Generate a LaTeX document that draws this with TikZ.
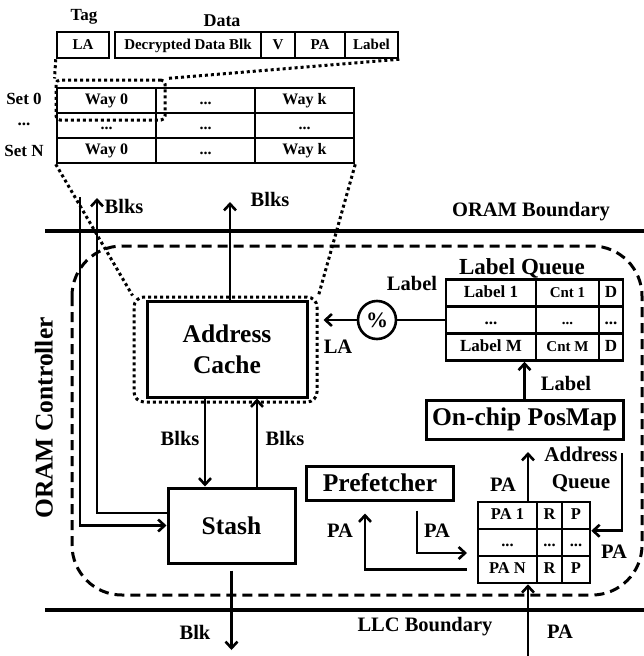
\documentclass[tikz,border=0pt]{standalone}
\usepackage{fontspec}
\setmainfont{Liberation Serif}
\usetikzlibrary{arrows.meta}

\newcommand{\fs}[2]{\fontsize{#1}{#2}\selectfont\bfseries}

\begin{document}
\begin{tikzpicture}[x=1pt,y=-1pt,
    box/.style={draw,line width=3pt,inner sep=0pt,font=\fs{25.5}{31},align=center},
    cell/.style={draw,line width=2.5pt,inner sep=0pt,text height=11pt,text depth=3pt},
    field/.style={cell,minimum height=26pt,font=\fs{15}{17}},
    way/.style={cell,minimum width=99pt,minimum height=25pt,font=\fs{16}{18}},
    lq/.style={cell,minimum height=27pt,font=\fs{17}{19}},
    aq/.style={cell,minimum height=27pt,font=\fs{16.5}{18}},
    txt/.style={inner sep=0pt,font=\fs{20.5}{25}},
    arr/.style={line width=2.6pt,-{Straight Barb[length=6.5pt,width=12pt]}},
    bound/.style={line width=4pt},
    dots/.style={line width=3pt,dash pattern=on 3pt off 3pt},
    ctrl/.style={line width=3pt,dash pattern=on 10pt off 6pt,rounded corners=50pt}]
    \useasboundingbox (0,0) rectangle (644,656);

    % cache line format
    \node[inner sep=0pt,font=\fs{17}{19}] (tagttl) at (84,17) {Tag};
    \node[inner sep=0pt,font=\fs{18}{20}] (datattl) at (222,21) {Data};
    \node[field,minimum width=52pt] (fla) at (83,45) {LA};
    \node[field,minimum width=146pt] (fblk) at (188,45) {Decrypted Data Blk};
    \node[field,minimum width=34pt] (fv) at (278,45) {V};
    \node[field,minimum width=50pt] (fpa) at (320,45) {PA};
    \node[field,minimum width=53pt] (flbl) at (371.5,45) {Label};

    % address cache sets
    \node[inner sep=0pt,font=\fs{17}{19}] (set0) at (24,99) {Set 0};
    \node[inner sep=0pt,font=\fs{17}{19}] (setd) at (24,124) {...};
    \node[inner sep=0pt,font=\fs{17}{19}] (setn) at (24,151) {Set N};
    \node[way] (s00) at (106.5,100.5) {Way 0};
    \node[way] (s01) at (205.5,100.5) {...};
    \node[way] (s02) at (304.5,100.5) {Way k};
    \node[way] (s10) at (106.5,125.5) {...};
    \node[way] (s11) at (205.5,125.5) {...};
    \node[way] (s12) at (304.5,125.5) {...};
    \node[way] (s20) at (106.5,150.5) {Way 0};
    \node[way] (s21) at (205.5,150.5) {...};
    \node[way] (s22) at (304.5,150.5) {Way k};

    \node[draw,dots,rounded corners=4pt,minimum width=109pt,minimum height=40pt,inner sep=0pt] (zoomcell) at (110.5,100) {};
    \draw[dots] (fla.south west) -- (zoomcell.north west);
    \draw[dots] (flbl.south east) -- (zoomcell.north east);

    % boundaries
    \draw[bound] (45,231) -- (644,231);
    \node[txt] (oramb) at (531,212) {ORAM Boundary};
    \draw[bound] (45,610) -- (644,610);
    \node[txt] (llcb) at (425,627) {LLC Boundary};

    \draw[ctrl] (72,246) rectangle (642,595);
    \node[inner sep=0pt,font=\fs{25.5}{28},rotate=90] (ctrlname) at (44,418) {ORAM Controller};

    % address cache and stash
    \node[box,minimum width=160pt,minimum height=96pt] (acache) at (227,349) {Address\\Cache};
    \node[draw,dots,rounded corners=10pt,minimum width=183pt,minimum height=105pt,inner sep=0pt] (acwrap) at (225.5,349.5) {};
    \draw[dots] (s20.south west) -- (acwrap.north west);
    \draw[dots] (s22.south east) -- (acwrap.north east);
    \node[box,minimum width=127pt,minimum height=75pt] (stash) at (231.5,525.5) {Stash};

    \coordinate (upblk) at (230,202);
    \draw[arr] (acache.north -| upblk) -- (upblk);
    \node[txt] (lblks1) at (270,199) {Blks};

    \draw[arr] ([xshift=-22pt]acache.south) -- ([xshift=-22pt]acache.south |- stash.north);
    \draw[arr] ([xshift=25.5pt]stash.north) -- ([xshift=25.5pt]stash.north |- acache.south);
    \node[txt] (lblks2) at (180,438) {Blks};
    \node[txt] (lblks3) at (285,438) {Blks};

    \coordinate (ltop) at (80,197);
    \coordinate (rtop) at (97,198);
    \draw[arr] (ltop) |- (stash.west);
    \draw[arr] ([yshift=12.5pt]stash.west) -| (rtop);
    \node[txt] (lblks0) at (124,206) {Blks};

    \coordinate (blkout) at (232,650);
    \draw[arr,shorten <=6pt] (stash.south) -- (stash.south |- blkout);
    \node[txt] (lblk) at (195,632) {Blk};

    % label queue
    \node[inner sep=0pt,font=\fs{23}{26}] (lqttl) at (522,268) {Label Queue};
    \node[lq,minimum width=90pt] (lq00) at (491,293) {Label 1};
    \node[lq,minimum width=63pt,font=\fs{15}{17}] (lq01) at (567.5,293) {Cnt 1};
    \node[lq,minimum width=24pt] (lq02) at (611,293) {D};
    \node[lq,minimum width=90pt] (lq10) at (491,320) {...};
    \node[lq,minimum width=63pt,font=\fs{15}{17}] (lq11) at (567.5,320) {...};
    \node[lq,minimum width=24pt] (lq12) at (611,320) {...};
    \node[lq,minimum width=90pt] (lq20) at (491,347) {Label M};
    \node[lq,minimum width=63pt,font=\fs{15}{17}] (lq21) at (567.5,347) {Cnt M};
    \node[lq,minimum width=24pt] (lq22) at (611,347) {D};

    \node[draw,circle,line width=2.6pt,minimum size=38pt,inner sep=0pt,font=\fs{22}{24}] (pct) at (377,320) {\%};
    \draw[line width=2.6pt] (lq10.west) -- (pct.east);
    \draw[arr,shorten >=5pt] (pct.west) -- (pct.west -| acwrap.east);
    \node[txt] (lbllab) at (412,283) {Label};
    \node[txt] (lblla) at (338,347) {LA};

    \node[box,minimum width=197pt,minimum height=39pt] (posmap) at (524.5,419.5) {On-chip PosMap};
    \draw[arr] (posmap.north) -- (posmap.north |- lq20.south);
    \node[txt] (lblpos) at (566,383) {Label};

    % address queue and prefetcher
    \node[box,minimum width=147pt,minimum height=34pt] (pref) at (380,483) {Prefetcher};
    \node[inner sep=0pt,font=\fs{21}{27},align=center,anchor=north] (aqttl) at (581,447) {Address\\Queue};
    \node[aq,minimum width=59pt] (aq00) at (507.5,515.5) {PA 1};
    \node[aq,minimum width=25pt] (aq01) at (549.5,515.5) {R};
    \node[aq,minimum width=28pt] (aq02) at (576,515.5) {P};
    \node[aq,minimum width=59pt] (aq10) at (507.5,542.5) {...};
    \node[aq,minimum width=25pt] (aq11) at (549.5,542.5) {...};
    \node[aq,minimum width=28pt] (aq12) at (576,542.5) {...};
    \node[aq,minimum width=59pt] (aq20) at (507.5,569.5) {PA N};
    \node[aq,minimum width=25pt] (aq21) at (549.5,569.5) {R};
    \node[aq,minimum width=28pt] (aq22) at (576,569.5) {P};

    \coordinate (aqup) at (528,452);
    \draw[arr] (aqup |- aq00.north) -- (aqup);
    \node[txt] (lblpa1) at (503,485) {PA};

    \coordinate (rline) at (622,453);
    \draw[arr] (rline) |- ([yshift=-3pt]aq12.north east);
    \node[txt] (lblpa2) at (614,552) {PA};

    \draw[arr,shorten <=10pt,shorten >=12pt] (aq20.west) -| ([xshift=-15pt]pref.south);
    \node[txt] (lblpa3) at (340,531) {PA};
    \coordinate (pfin) at (478,553);
    \draw[arr,shorten <=9pt,shorten >=11pt] ([xshift=37pt]pref.south) |- (pfin);
    \node[txt] (lblpa4) at (437,531) {PA};

    \coordinate (pain) at (528,656);
    \draw[arr] (pain) -- (pain |- aq20.south);
    \node[txt] (lblpa5) at (560,632) {PA};
\end{tikzpicture}
\end{document}
